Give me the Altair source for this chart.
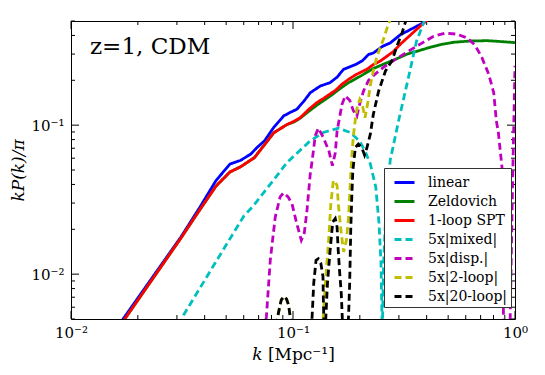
import altair as alt
import pandas as pd

series_names = ["linear", "Zeldovich", "1-loop SPT", "5x|mixed|", "5x|disp.|", "5x|2-loop|", "5x|20-loop|"]
series_colors = ["#0000ff", "#008000", "#ff0000", "#00bfbf", "#bf00bf", "#bfbf00", "#000000"]
series_dashes = [[1, 0], [1, 0], [1, 0], [7, 4], [7, 4], [7, 4], [7, 4]]

linear_k = [0.0165, 0.0313, 0.038, 0.045, 0.052, 0.058, 0.0646, 0.0689, 0.0745, 0.0818, 0.0908, 0.0975,
            0.1042, 0.112, 0.1196, 0.1327, 0.147, 0.158, 0.169, 0.191, 0.205, 0.219, 0.23, 0.254, 0.274,
            0.305, 0.33, 0.36, 0.39, 0.41]
linear_y = [0.0046, 0.0178, 0.028, 0.0425, 0.0548, 0.058, 0.064, 0.0709, 0.0786, 0.0964, 0.1154, 0.122,
            0.128, 0.145, 0.165, 0.183, 0.193, 0.21, 0.237, 0.255, 0.27, 0.298, 0.305, 0.339, 0.356,
            0.405, 0.43, 0.46, 0.49, 0.52]

zel_k = [0.0168, 0.0313, 0.038, 0.045, 0.052, 0.058, 0.067, 0.075, 0.082, 0.094, 0.101, 0.108, 0.118,
         0.128, 0.14, 0.15, 0.163, 0.177, 0.2, 0.23, 0.255, 0.29, 0.327, 0.374, 0.42, 0.461, 0.53,
         0.629, 0.75, 0.86, 1.0]
zel_y = [0.0046, 0.0175, 0.027, 0.039, 0.0485, 0.0525, 0.0605, 0.075, 0.089, 0.101, 0.105, 0.1115, 0.124,
         0.136, 0.149, 0.16, 0.176, 0.192, 0.212, 0.24, 0.256, 0.277, 0.3, 0.318, 0.335, 0.347, 0.36,
         0.367, 0.369, 0.364, 0.358]

spt_k = [0.0168, 0.0313, 0.038, 0.045, 0.052, 0.058, 0.067, 0.075, 0.082, 0.094, 0.101, 0.108, 0.118,
         0.128, 0.138, 0.147, 0.156, 0.166, 0.178, 0.19, 0.2, 0.215, 0.23, 0.247, 0.265, 0.284, 0.305,
         0.327, 0.355, 0.385, 0.41]
spt_y = [0.0046, 0.0175, 0.027, 0.039, 0.0485, 0.0525, 0.0605, 0.075, 0.089, 0.101, 0.106, 0.1125, 0.128,
         0.1416, 0.152, 0.162, 0.172, 0.188, 0.203, 0.216, 0.225, 0.237, 0.255, 0.269, 0.29, 0.313, 0.35,
         0.385, 0.43, 0.48, 0.52]

mixed_k = [0.031, 0.0321, 0.047, 0.06, 0.0665, 0.075, 0.0847, 0.094, 0.1196, 0.137, 0.16, 0.181, 0.2,
           0.212, 0.223, 0.236, 0.244, 0.249, 0.2525, 0.256, 0.262, 0.274, 0.299, 0.331, 0.36, 0.387, 0.4]
mixed_y = [0.0045, 0.0053, 0.0135, 0.0245, 0.0289, 0.0364, 0.0458, 0.0562, 0.0785, 0.0893, 0.0955, 0.0893,
           0.078, 0.066, 0.055, 0.0384, 0.022, 0.012, 0.004, 0.012, 0.026, 0.058, 0.107, 0.208, 0.366,
           0.484, 0.55]

disp_k = [0.0745, 0.0759, 0.079, 0.0832, 0.0875, 0.0907, 0.095, 0.099, 0.104, 0.109, 0.1125, 0.1156,
          0.1196, 0.122, 0.126, 0.13, 0.137, 0.145, 0.1505, 0.155, 0.158, 0.1663, 0.172, 0.18, 0.187,
          0.194, 0.2, 0.208, 0.219, 0.23, 0.256, 0.289, 0.327, 0.374, 0.43, 0.485, 0.548, 0.608, 0.66,
          0.709, 0.761, 0.802, 0.824, 0.841, 0.874, 0.884, 0.89, 0.95, 0.975, 0.99, 1.0]
disp_y = [0.0042, 0.0052, 0.0124, 0.0242, 0.033, 0.0351, 0.033, 0.0296, 0.0218, 0.0169, 0.019, 0.0268,
          0.0471, 0.0578, 0.085, 0.0955, 0.0826, 0.0673, 0.0535, 0.065, 0.0916, 0.138, 0.157, 0.147, 0.125,
          0.115, 0.14, 0.17, 0.2, 0.215, 0.245, 0.276, 0.31, 0.35, 0.395, 0.415, 0.408, 0.385, 0.345,
          0.285, 0.22, 0.165, 0.107, 0.09, 0.052, 0.01, 0.003, 0.0045, 0.04, 0.12, 0.25]

loop2_k = [0.084, 0.086, 0.0885, 0.091, 0.0935, 0.0955, 0.0975, 0.099, 0.11, 0.125, 0.136, 0.137, 0.141,
           0.1447, 0.148, 0.152, 0.155, 0.158, 0.16, 0.1644, 0.169, 0.174, 0.178, 0.181, 0.184, 0.187,
           0.191, 0.195, 0.2, 0.205, 0.211, 0.217, 0.223, 0.23, 0.239, 0.256, 0.268, 0.28]
loop2_y = [0.0045, 0.0055, 0.0067, 0.0071, 0.0068, 0.0062, 0.005, 0.0042, 0.002, 0.002, 0.0045, 0.0053,
           0.0101, 0.0169, 0.0296, 0.0425, 0.0415, 0.0393, 0.0296, 0.0197, 0.0141, 0.0169, 0.0242, 0.0404,
           0.0608, 0.085, 0.11, 0.135, 0.149, 0.138, 0.112, 0.14, 0.185, 0.231, 0.29, 0.38, 0.47, 0.55]

loop20_k = [0.084, 0.086, 0.0885, 0.091, 0.0935, 0.0955, 0.0975, 0.099, 0.11, 0.121, 0.122, 0.124, 0.127,
            0.13, 0.1335, 0.1365, 0.137, 0.138, 0.1385, 0.14, 0.143, 0.147, 0.151, 0.155, 0.158, 0.1595,
            0.162, 0.165, 0.167, 0.172, 0.177, 0.178, 0.18, 0.181, 0.182, 0.184, 0.186, 0.191, 0.197,
            0.204, 0.21, 0.215, 0.223, 0.23, 0.243, 0.261, 0.279, 0.294, 0.31, 0.322, 0.33]
loop20_y = [0.0045, 0.0055, 0.0067, 0.0071, 0.0068, 0.0062, 0.005, 0.0042, 0.002, 0.0042, 0.0053, 0.0087,
            0.0124, 0.0127, 0.0118, 0.0096, 0.0067, 0.0045, 0.003, 0.0045, 0.0087, 0.0145, 0.0224, 0.0236,
            0.0207, 0.0152, 0.0106, 0.0074, 0.0048, 0.002, 0.0045, 0.0053, 0.0087, 0.013, 0.0197, 0.033,
            0.0495, 0.0709, 0.0746, 0.0709, 0.063, 0.07, 0.087, 0.118, 0.169, 0.231, 0.27, 0.339, 0.416,
            0.5, 0.55]

x_major = [0.01, 0.1, 1.0]
x_minor = [0.02, 0.03, 0.04, 0.05, 0.06, 0.07, 0.08, 0.09, 0.2, 0.3, 0.4, 0.5, 0.6, 0.7, 0.8, 0.9]
y_major = [0.01, 0.1]
y_minor = [0.005, 0.006, 0.007, 0.008, 0.009, 0.02, 0.03, 0.04, 0.05, 0.06, 0.07, 0.08, 0.09,
           0.2, 0.3, 0.4, 0.5]

all_k = [linear_k, zel_k, spt_k, mixed_k, disp_k, loop2_k, loop20_k]
all_y = [linear_y, zel_y, spt_y, mixed_y, disp_y, loop2_y, loop20_y]
rows = []
for name, ks, ys in zip(series_names, all_k, all_y):
    for i, (kk, vv) in enumerate(zip(ks, ys)):
        rows.append({"series": name, "k": kk, "val": vv, "i": i})
df = pd.DataFrame(rows)

W, H = 444, 298
FONT = "DejaVu Serif"

xscale = alt.Scale(type="log", domain=[0.01, 1], nice=False)
yscale = alt.Scale(type="log", domain=[0.005, 0.5], nice=False)
lab_expr = "datum.value < 0.05 ? '10⁻²' : (datum.value < 0.5 ? '10⁻¹' : '10⁰')"

xaxis = alt.Axis(values=x_major, labelExpr=lab_expr, title="𝑘 [Mpc⁻¹]", ticks=False, grid=False,
                 domain=False, labelFont=FONT, labelFontSize=15, labelPadding=6, labelColor="black",
                 titleFont=FONT, titleFontSize=17, titleFontWeight="normal", titlePadding=6,
                 titleColor="black", labelFlush=False)
yaxis = alt.Axis(values=y_major, labelExpr=lab_expr, title="kP(k)/π", ticks=False, grid=False,
                 domain=False, labelFont=FONT, labelFontSize=15, labelPadding=7, labelColor="black",
                 titleFont=FONT, titleFontSize=17, titleFontWeight="normal", titleFontStyle="italic",
                 titlePadding=3, titleColor="black", labelFlush=False)

X = alt.X("k:Q", scale=xscale, axis=xaxis)
Y = alt.Y("val:Q", scale=yscale, axis=yaxis)
leg = alt.Legend(title=None, labelFont=FONT, labelFontSize=14, labelColor="black")
color = alt.Color("series:N", scale=alt.Scale(domain=series_names, range=series_colors), legend=leg)
dash = alt.StrokeDash("series:N", scale=alt.Scale(domain=series_names, range=series_dashes), legend=leg)

base = alt.Chart(df)
layers = []
for s in series_names:
    layers.append(
        base.transform_filter(alt.datum.series == s)
        .mark_line(clip=True, strokeWidth=2.8)
        .encode(x=X, y=Y, color=color, strokeDash=dash, order="i:Q")
    )

xt_major = alt.Chart(pd.DataFrame({"k": x_major}))
xt_minor = alt.Chart(pd.DataFrame({"k": x_minor}))
yt_major = alt.Chart(pd.DataFrame({"val": y_major}))
yt_minor = alt.Chart(pd.DataFrame({"val": y_minor}))

tick_layers = [
    xt_major.mark_rule(color="black", strokeWidth=1).encode(x=X, y=alt.value(H), y2=alt.value(H - 8)),
    xt_major.mark_rule(color="black", strokeWidth=1).encode(x=X, y=alt.value(0), y2=alt.value(8)),
    xt_minor.mark_rule(color="black", strokeWidth=1).encode(x=X, y=alt.value(H), y2=alt.value(H - 4)),
    xt_minor.mark_rule(color="black", strokeWidth=1).encode(x=X, y=alt.value(0), y2=alt.value(4)),
    yt_major.mark_rule(color="black", strokeWidth=1).encode(y=Y, x=alt.value(0), x2=alt.value(8)),
    yt_major.mark_rule(color="black", strokeWidth=1).encode(y=Y, x=alt.value(W), x2=alt.value(W - 8)),
    yt_minor.mark_rule(color="black", strokeWidth=1).encode(y=Y, x=alt.value(0), x2=alt.value(4)),
    yt_minor.mark_rule(color="black", strokeWidth=1).encode(y=Y, x=alt.value(W), x2=alt.value(W - 4)),
]

label = alt.Chart(pd.DataFrame({"t": ["z=1, CDM"]})).mark_text(
    align="left", baseline="alphabetic", font=FONT, fontSize=23, color="black"
).encode(x=alt.value(19), y=alt.value(33), text="t:N")

chart = alt.layer(*tick_layers, *layers, label).properties(
    width=W, height=H,
    autosize=alt.AutoSizeParams(type="none"),
    padding={"left": 63, "top": 13, "right": 20, "bottom": 46},
    background="white",
).configure_view(
    stroke="black", strokeWidth=1
).configure_legend(
    orient="none", legendX=313, legendY=147, fillColor="white", strokeColor="#333333",
    padding=3, symbolOffset=6, cornerRadius=0, labelFont=FONT, labelFontSize=14, labelColor="black",
    symbolType="stroke", symbolSize=400, symbolStrokeWidth=3, rowPadding=0, labelOffset=12,
    labelLimit=200
)

chart.save("out.html", embed_options={"renderer": "svg", "actions": False})
